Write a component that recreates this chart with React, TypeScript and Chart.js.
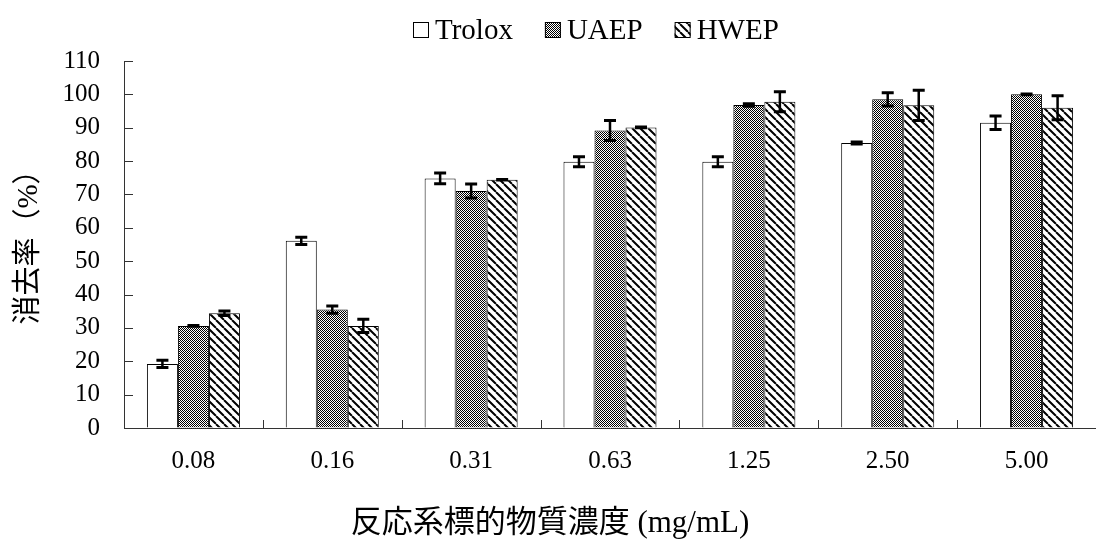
import { useEffect, useRef } from 'react';
import { Chart, registerables } from 'chart.js';

Chart.register(...registerables);

// Concentrations of the reaction system (mg/mL)
const concentrations = ['0.08', '0.16', '0.31', '0.63', '1.25', '2.50', '5.00'];
const seriesNames = ['Trolox', 'UAEP', 'HWEP'];

// Scavenging rate (%) and standard deviations
const troloxValues = [19.2, 56.1, 74.8, 79.8, 79.8, 85.4, 91.5];
const troloxErrors = [1.1, 1.1, 1.6, 1.5, 1.5, 0.3, 2.0];
const uaepValues = [30.6, 35.5, 71.0, 89.2, 96.8, 98.5, 100.0];
const uaepErrors = [0.1, 1.1, 2.1, 3.0, 0.4, 2.0, 0.1];
const hwepValues = [34.4, 30.6, 74.4, 90.1, 97.8, 96.7, 96.0];
const hwepErrors = [0.7, 2.0, 0.1, 0.1, 3.0, 4.5, 3.6];

const yMin = 0;
const yMax = 110;
const yStep = 10;

const xTitle = '反応系標的物質濃度 (mg/mL)';
const yTitle = '消去率（%）';

const SERIF = '"Liberation Serif", "Times New Roman", "Noto Sans CJK JP", serif';

const errorSets = [troloxErrors, uaepErrors, hwepErrors];

function makeChecker(): CanvasPattern {
  const c = document.createElement('canvas');
  c.width = 2;
  c.height = 2;
  const g = c.getContext('2d')!;
  g.fillStyle = '#ffffff';
  g.fillRect(0, 0, 2, 2);
  g.fillStyle = '#000000';
  g.fillRect(0, 0, 1, 1);
  g.fillRect(1, 1, 1, 1);
  return g.createPattern(c, 'repeat')!;
}

function makeStripes(): CanvasPattern {
  const c = document.createElement('canvas');
  c.width = 8;
  c.height = 8;
  const g = c.getContext('2d')!;
  g.fillStyle = '#ffffff';
  g.fillRect(0, 0, 8, 8);
  g.strokeStyle = '#000000';
  g.lineWidth = 2;
  g.beginPath();
  for (const k of [-8, 0, 8]) {
    g.moveTo(k, 0);
    g.lineTo(k + 8, 8);
  }
  g.stroke();
  return g.createPattern(c, 'repeat')!;
}

// Vertical error bars with caps, placed on each bar via the y scale
const errorBarPlugin = {
  id: 'errorBars',
  afterDatasetsDraw(chart: any) {
    const { ctx } = chart;
    const yScale = chart.scales.y;
    chart.data.datasets.forEach((ds: any, di: number) => {
      const meta = chart.getDatasetMeta(di);
      const errs = errorSets[di];
      meta.data.forEach((bar: any, i: number) => {
        const v = ds.data[i] as number;
        const e = errs[i];
        const top = yScale.getPixelForValue(v + e);
        const bot = yScale.getPixelForValue(v - e);
        const half = 6;
        ctx.save();
        ctx.strokeStyle = '#000';
        ctx.lineWidth = 2.5;
        ctx.beginPath();
        ctx.moveTo(bar.x, top);
        ctx.lineTo(bar.x, bot);
        ctx.stroke();
        ctx.lineWidth = 3;
        ctx.beginPath();
        ctx.moveTo(bar.x - half, top);
        ctx.lineTo(bar.x + half, top);
        ctx.moveTo(bar.x - half, bot);
        ctx.lineTo(bar.x + half, bot);
        ctx.stroke();
        ctx.restore();
      });
    });
  },
};

// Tick marks pointing into the plot area, plus axis titles and the legend row
const decorPlugin = {
  id: 'decor',
  afterDraw(chart: any) {
    const { ctx, chartArea } = chart;
    const xs = chart.scales.x;
    const ys = chart.scales.y;
    ctx.save();
    ctx.strokeStyle = '#333';
    ctx.lineWidth = 1;
    ctx.beginPath();
    ys.ticks.forEach((t: any) => {
      const y = Math.round(ys.getPixelForValue(t.value)) + 0.5;
      ctx.moveTo(chartArea.left, y);
      ctx.lineTo(chartArea.left + 9, y);
    });
    const step = xs.getPixelForValue(1) - xs.getPixelForValue(0);
    for (let i = 1; i < concentrations.length; i++) {
      const x = Math.round(xs.getPixelForValue(i) - step / 2) + 0.5;
      ctx.moveTo(x, chartArea.bottom);
      ctx.lineTo(x, chartArea.bottom - 8);
    }
    ctx.stroke();

    // axis titles
    ctx.fillStyle = '#000';
    ctx.font = `31px ${SERIF}`;
    ctx.textAlign = 'center';
    ctx.textBaseline = 'middle';
    ctx.fillText(xTitle, 550, 524);
    ctx.save();
    ctx.translate(29, 240);
    ctx.rotate(-Math.PI / 2);
    ctx.font = `29px ${SERIF}`;
    ctx.fillText(yTitle, 0, 0);
    ctx.restore();

    // legend
    ctx.font = `29px ${SERIF}`;
    ctx.textAlign = 'left';
    ctx.textBaseline = 'alphabetic';
    let x = 413;
    chart.data.datasets.forEach((ds: any) => {
      ctx.fillStyle = ds.backgroundColor;
      ctx.fillRect(x, 22, 16, 16);
      ctx.strokeStyle = '#000';
      ctx.lineWidth = 1;
      ctx.strokeRect(x + 0.5, 22.5, 15, 15);
      ctx.fillStyle = '#000';
      ctx.fillText(ds.label, x + 22, 39);
      x += 22 + ctx.measureText(ds.label).width + 32;
    });
    ctx.restore();
  },
};

export default function App() {
  const ref = useRef<HTMLCanvasElement>(null);

  useEffect(() => {
    document.body.style.margin = '0';
    const canvas = ref.current!;
    const fills = ['#ffffff', makeChecker(), makeStripes()];
    const values = [troloxValues, uaepValues, hwepValues];

    const chart = new Chart(canvas, {
      type: 'bar',
      data: {
        labels: concentrations,
        datasets: seriesNames.map((name, i) => ({
          label: name,
          data: values[i],
          backgroundColor: fills[i] as any,
          borderColor: '#000',
          borderWidth: 1,
          categoryPercentage: 0.67,
          barPercentage: 1.0,
        })),
      },
      options: {
        responsive: false,
        animation: false,
        devicePixelRatio: 1,
        layout: { padding: { top: 61, right: 0, bottom: 0, left: 0 } },
        plugins: {
          legend: { display: false },
          tooltip: { enabled: false },
        },
        scales: {
          x: {
            grid: { display: true, drawOnChartArea: false, drawTicks: false },
            border: { display: true, color: '#333', width: 1 },
            ticks: {
              color: '#000',
              font: { family: SERIF, size: 25 },
              padding: 18,
              maxRotation: 0,
            },
            afterFit: (scale: any) => {
              scale.height = 117;
            },
          },
          y: {
            min: yMin,
            max: yMax,
            grid: { display: true, drawOnChartArea: false, drawTicks: false },
            border: { display: true, color: '#333', width: 1 },
            ticks: {
              stepSize: yStep,
              color: '#000',
              font: { family: SERIF, size: 25 },
              padding: 24,
            },
            afterFit: (scale: any) => {
              scale.width = 124;
            },
          },
        },
      },
      plugins: [errorBarPlugin, decorPlugin],
    });

    return () => chart.destroy();
  }, []);

  return (
    <div style={{ width: 1096, height: 545 }}>
      <canvas ref={ref} width={1096} height={545} style={{ display: 'block' }} />
    </div>
  );
}
